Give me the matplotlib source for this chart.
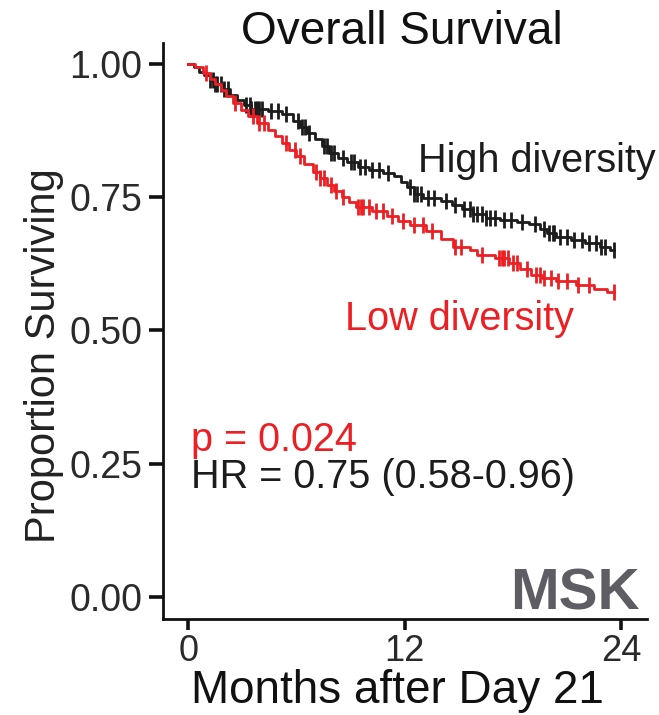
import matplotlib
matplotlib.use("Agg")
import matplotlib.pyplot as plt
import numpy as np

plt.rcParams['font.family'] = ['Liberation Sans', 'DejaVu Sans']

# step curves (months, proportion surviving)
high_t = [0, 0.3, 0.6, 0.9, 1.2, 1.5, 1.9, 2.3, 2.7, 3.1, 3.5, 4.4, 5.2, 5.8,
          6.2, 6.6, 7.0, 7.4, 7.8, 8.3, 8.8, 9.4, 10.0, 10.8, 11.4, 11.8,
          12.1, 12.5, 13.0, 14.0, 14.6, 15.2, 15.8, 16.5, 17.3, 18.2, 18.9,
          19.5, 19.9, 20.4, 21.2, 22.0, 22.8, 23.4]
high_s = [1.0, 0.993, 0.985, 0.978, 0.970, 0.962, 0.952, 0.942, 0.932, 0.922,
          0.915, 0.911, 0.905, 0.893, 0.882, 0.870, 0.858, 0.845, 0.832,
          0.823, 0.815, 0.807, 0.800, 0.795, 0.789, 0.778, 0.768, 0.755,
          0.748, 0.742, 0.735, 0.727, 0.718, 0.711, 0.706, 0.703, 0.699,
          0.690, 0.682, 0.675, 0.669, 0.663, 0.657, 0.651]
high_end = 23.6

low_t = [0, 0.4, 0.8, 1.2, 1.5, 1.8, 2.1, 2.5, 2.9, 3.3, 3.8, 4.4, 4.8, 5.2,
         5.6, 6.0, 6.4, 6.9, 7.3, 7.7, 8.1, 8.5, 8.9, 9.3, 10.2, 11.0, 11.6,
         12.3, 13.2, 14.0, 14.7, 15.6, 16.0, 17.0, 17.8, 18.4, 19.0, 19.6,
         20.4, 21.5, 22.5, 23.2]
low_s = [1.0, 0.993, 0.983, 0.972, 0.962, 0.950, 0.939, 0.927, 0.914, 0.901,
         0.889, 0.876, 0.864, 0.851, 0.838, 0.826, 0.812, 0.797, 0.785,
         0.773, 0.762, 0.750, 0.740, 0.731, 0.724, 0.714, 0.705, 0.697,
         0.686, 0.672, 0.657, 0.650, 0.642, 0.635, 0.626, 0.615, 0.604,
         0.598, 0.592, 0.585, 0.578, 0.571]
low_end = 23.6

# censoring times
high_cens = [1.2, 1.4, 1.5, 1.6, 1.8, 2.0, 2.2, 3.2, 3.4, 3.5, 3.7, 3.8, 3.9,
             4.1, 4.6, 5.0, 5.4, 6.1, 6.3, 6.5, 6.7, 7.5, 7.7, 7.9, 8.1, 8.6,
             9.0, 9.2, 9.5, 9.8, 10.2, 10.6, 11.1, 12.3, 12.5, 12.7, 12.9,
             13.3, 13.6, 14.3, 14.8, 15.3, 15.6, 15.8, 16.0, 16.3, 16.5, 16.7,
             17.0, 17.5, 17.9, 18.5, 19.2, 19.7, 20.0, 20.2, 20.3, 20.6, 21.0,
             21.4, 21.8, 22.2, 22.6, 22.9, 23.1, 23.6]
low_cens = [1.0, 2.6, 3.6, 3.9, 4.2, 5.4, 5.9, 6.2, 7.1, 7.3, 7.5, 7.9, 8.2,
            8.6, 9.4, 9.6, 9.7, 10.0, 10.4, 10.8, 11.3, 11.9, 12.5, 13.0,
            13.5, 14.8, 15.1, 16.3, 17.2, 17.4, 17.5, 17.7, 18.0, 18.2, 18.8,
            19.3, 19.5, 19.7, 20.1, 20.5, 21.0, 21.6, 22.2, 23.6]

x_ticks = [0, 12, 24]
y_ticks = [0.00, 0.25, 0.50, 0.75, 1.00]

BLACK = "#1c1c1c"
RED = "#ec2024"


def step_at(ts, ss, x):
    idx = np.searchsorted(ts, x, side="right") - 1
    return np.asarray(ss)[idx]


fig = plt.figure(figsize=(6.59, 7.15), dpi=100)
ax = fig.add_axes([0.2473, 0.1343, 0.7345, 0.8057])

for ts, ss, end, cens, col in [(high_t, high_s, high_end, high_cens, BLACK),
                               (low_t, low_s, low_end, low_cens, RED)]:
    xs = list(ts) + [end]
    ys = list(ss) + [ss[-1]]
    ax.step(xs, ys, where="post", color=col, lw=2.0, zorder=3)
    ax.plot(cens, step_at(ts, ss, cens), linestyle="None", marker="|",
            markersize=12, mew=2.0, color=col, zorder=3)

ax.set_xlim(-1.40, 25.43)
ax.set_ylim(-0.0413, 1.039)
ax.set_xticks(x_ticks)
ax.set_xticklabels([str(v) for v in x_ticks])
ax.set_yticks(y_ticks)
ax.set_yticklabels(["%.2f" % v for v in y_ticks])

for side in ["top", "right"]:
    ax.spines[side].set_visible(False)
for side in ["left", "bottom"]:
    ax.spines[side].set_linewidth(2.0)
    ax.spines[side].set_color("#111111")
ax.tick_params(axis="y", length=10, width=2.6, color="#111111",
               labelsize=27, labelcolor="#2a2a2a", pad=5)
ax.tick_params(axis="x", length=8, width=2.6, color="#111111",
               labelsize=26, labelcolor="#2a2a2a", pad=3)

fig.text(0.5 * (0.2473 + 0.9818) - 0.005, 1 - 43.5 / 715, "Overall Survival",
         fontsize=33, color="#111111", ha="center", va="baseline")
ax.set_xlabel("Months after Day 21", fontsize=33, color="#111111")
ax.set_ylabel("Proportion Surviving", fontsize=30, color="#222222")
ax.xaxis.set_label_coords(0.485, -0.086)
ax.yaxis.set_label_coords(-0.205, 0.458)

ax.text(12.73, 0.797, "High diversity", fontsize=28.5, color=BLACK,
        va="baseline", ha="left")
ax.text(8.69, 0.501, "Low diversity", fontsize=28.5, color=RED,
        va="baseline", ha="left")
ax.text(0.15, 0.273, "p = 0.024", fontsize=28.5, color=RED,
        va="baseline", ha="left")
ax.text(0.15, 0.2045, "HR = 0.75 (0.58-0.96)", fontsize=28.5, color=BLACK,
        va="baseline", ha="left")
ax.text(25.04, -0.0244, "MSK", fontsize=42, fontweight="bold",
        color="#5d5d63", va="baseline", ha="right")

fig.savefig("out.png", dpi=100)
